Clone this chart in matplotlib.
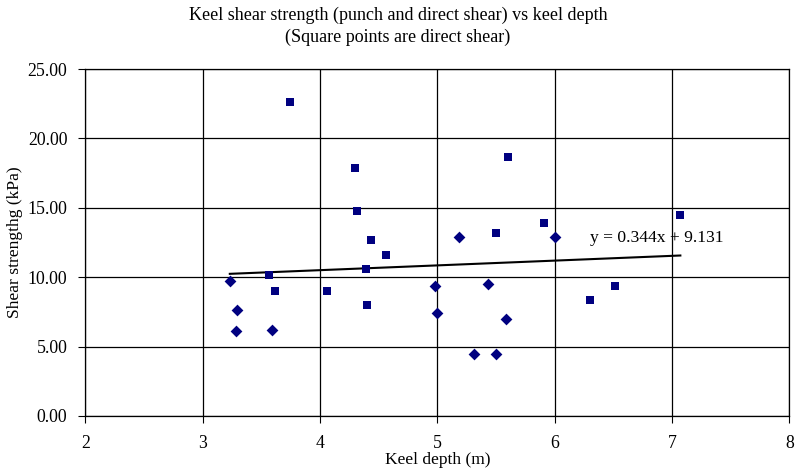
import numpy as np
import matplotlib.pyplot as plt

# punch tests (diamonds)
punch_x = [3.23, 3.29, 3.28, 3.59, 5.18, 6.00, 4.98, 5.43, 5.00, 5.58, 5.31, 5.50]
punch_y = [9.75, 7.64, 6.10, 6.22, 12.87, 12.87, 9.34, 9.49, 7.44, 6.99, 4.47, 4.47]

# direct shear tests (squares)
direct_x = [3.74, 4.30, 4.31, 4.43, 4.56, 4.39, 3.56, 3.615, 4.06, 4.40,
            5.60, 5.91, 5.50, 7.07, 6.51, 6.30]
direct_y = [22.62, 17.86, 14.79, 12.70, 11.62, 10.61, 10.13, 9.03, 9.03, 8.02,
            18.68, 13.93, 13.21, 14.48, 9.39, 8.38]

slope = 0.344
intercept = 9.131

plt.rcParams['font.family'] = 'Liberation Serif'

fig = plt.figure(figsize=(7.96, 4.74), dpi=100)
ax = fig.add_axes([0.1074, 0.1224, 0.8844, 0.732])

navy = '#000080'
ax.scatter(punch_x, punch_y, marker='D', s=36, color=navy, zorder=3, linewidths=0)
ax.scatter(direct_x, direct_y, marker='s', s=40, color=navy, zorder=3, linewidths=0)

all_x = punch_x + direct_x
tx = np.array([min(all_x), max(all_x)])
ax.plot(tx, slope * tx + intercept, color='black', lw=1.5, zorder=2)
ax.text(6.30, 12.82, 'y = 0.344x + 9.131', fontsize=12.6, va='center', ha='left')

ax.set_xlim(2, 8)
ax.set_ylim(0, 25)
ax.set_xticks(range(2, 9))
ax.set_yticks(np.arange(0, 26, 5))
ax.set_yticklabels(['%.2f' % v for v in np.arange(0, 26, 5)])
ax.grid(True, color='black', lw=0.9)
ax.set_axisbelow(True)
for s in ax.spines.values():
    s.set_color('black')
    s.set_linewidth(0.9)
ax.tick_params(direction='out', length=5, labelsize=12.8, colors='black')
ax.tick_params(axis='x', pad=9)
ax.tick_params(axis='y', pad=8)

ax.set_xlabel('Keel depth (m)', fontsize=12.6, labelpad=0)
ax.set_ylabel('Shear strengthg (kPa)', fontsize=12.6, labelpad=3)
fig.text(0.5, 0.968, 'Keel shear strength (punch and direct shear) vs keel depth',
         ha='center', va='center', fontsize=13)
fig.text(0.5, 0.921, '(Square points are direct shear)', ha='center', va='center', fontsize=13)

fig.savefig('out.png', dpi=100)
